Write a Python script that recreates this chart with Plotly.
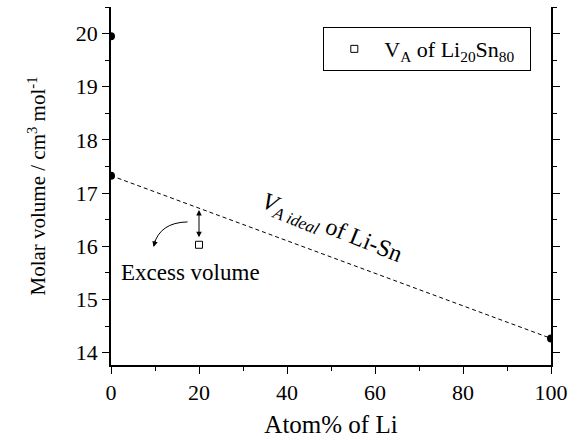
import plotly.graph_objects as go

# ---- data ----
pure_x = [0, 0, 100]
pure_v = [19.95, 17.33, 14.27]
ideal_x = [0, 100]
ideal_v = [17.33, 14.27]
alloy_x = [20]
alloy_v = [16.03]
alloy_ideal_v = [16.71]
x_ticks = [0, 20, 40, 60, 80, 100]
y_ticks = [14, 15, 16, 17, 18, 19, 20]

FONT = "Liberation Serif, Times New Roman, serif"

fig = go.Figure()

fig.add_trace(go.Scatter(
    x=ideal_x, y=ideal_v, mode="lines",
    line=dict(color="black", width=1, dash="4px,3px"),
    showlegend=False, hoverinfo="skip"))

fig.add_trace(go.Scatter(
    x=pure_x, y=pure_v, mode="markers",
    marker=dict(color="black", size=8, symbol="circle"),
    showlegend=False))

fig.add_trace(go.Scatter(
    x=alloy_x, y=alloy_v, mode="markers",
    marker=dict(color="white", size=7, symbol="square",
                line=dict(color="black", width=1)),
    name="V<sub>A</sub> of Li<sub>20</sub>Sn<sub>80</sub>  "))

# double-headed arrow between ideal line and measured value
fig.add_annotation(
    x=alloy_x[0], y=alloy_v[0] + 0.14, ax=alloy_x[0], ay=alloy_ideal_v[0],
    xref="x", yref="y", axref="x", ayref="y", text="",
    showarrow=True, arrowhead=2, arrowside="end+start",
    arrowsize=1.1, arrowwidth=1, arrowcolor="black", standoff=0, startstandoff=0)

# curved arrow
fig.add_shape(type="path", xref="x", yref="y",
              path="M 17.4,16.46 Q 11.1,16.45 9.7,16.02",
              line=dict(color="black", width=1))
fig.add_annotation(
    x=9.7, y=15.99, ax=2, ay=-8, xref="x", yref="y", text="",
    showarrow=True, arrowhead=2, arrowsize=1.1, arrowwidth=1,
    arrowcolor="black", standoff=0)

fig.add_annotation(
    x=18.0, y=15.51, xref="x", yref="y", text="Excess volume",
    showarrow=False, font=dict(family=FONT, size=23, color="black"))

fig.add_annotation(
    x=50.07, y=16.32, xref="x", yref="y",
    text="<i>V</i><sub><i>A ideal</i></sub> of Li-Sn",
    textangle=22, showarrow=False,
    font=dict(family=FONT, size=24, color="black"))

fig.update_xaxes(
    range=[0, 100], tickvals=x_ticks, ticktext=[str(v) for v in x_ticks],
    showgrid=False, zeroline=False,
    showline=True, linecolor="black", linewidth=1.5, mirror=False,
    ticks="outside", ticklen=7, tickwidth=1, tickcolor="black",
    minor=dict(dtick=10, ticks="outside", ticklen=4, tickwidth=1, tickcolor="black", showgrid=False),
    tickfont=dict(family=FONT, size=22, color="black"),
    title=dict(text="Atom% of Li", font=dict(family=FONT, size=25, color="black"), standoff=11))

fig.update_yaxes(
    range=[13.77, 20.5], tickvals=y_ticks, ticktext=[str(v) for v in y_ticks],
    showgrid=False, zeroline=False,
    showline=True, linecolor="black", linewidth=1.5, mirror="ticks",
    ticks="outside", ticklen=7, tickwidth=1, tickcolor="black",
    minor=dict(dtick=0.5, ticks="outside", ticklen=4, tickwidth=1, tickcolor="black", showgrid=False),
    tickfont=dict(family=FONT, size=22, color="black"),
    title=dict(text="Molar volume / cm<sup>3</sup> mol<sup>-1</sup>",
               font=dict(family=FONT, size=21, color="black"), standoff=24))

fig.update_layout(
    width=577, height=442,
    margin=dict(l=111, r=26, t=7, b=77, autoexpand=False),
    paper_bgcolor="white", plot_bgcolor="white",
    showlegend=True,
    legend=dict(x=0.4825, y=0.944, xanchor="left", yanchor="top",
                bordercolor="black", borderwidth=1, bgcolor="white",
                font=dict(family=FONT, size=22, color="black"),
                itemwidth=50),
)

fig.write_html("out.html",
               config={"displayModeBar": False},
               post_script="document.body.style.margin='0';document.body.style.padding='0';")
